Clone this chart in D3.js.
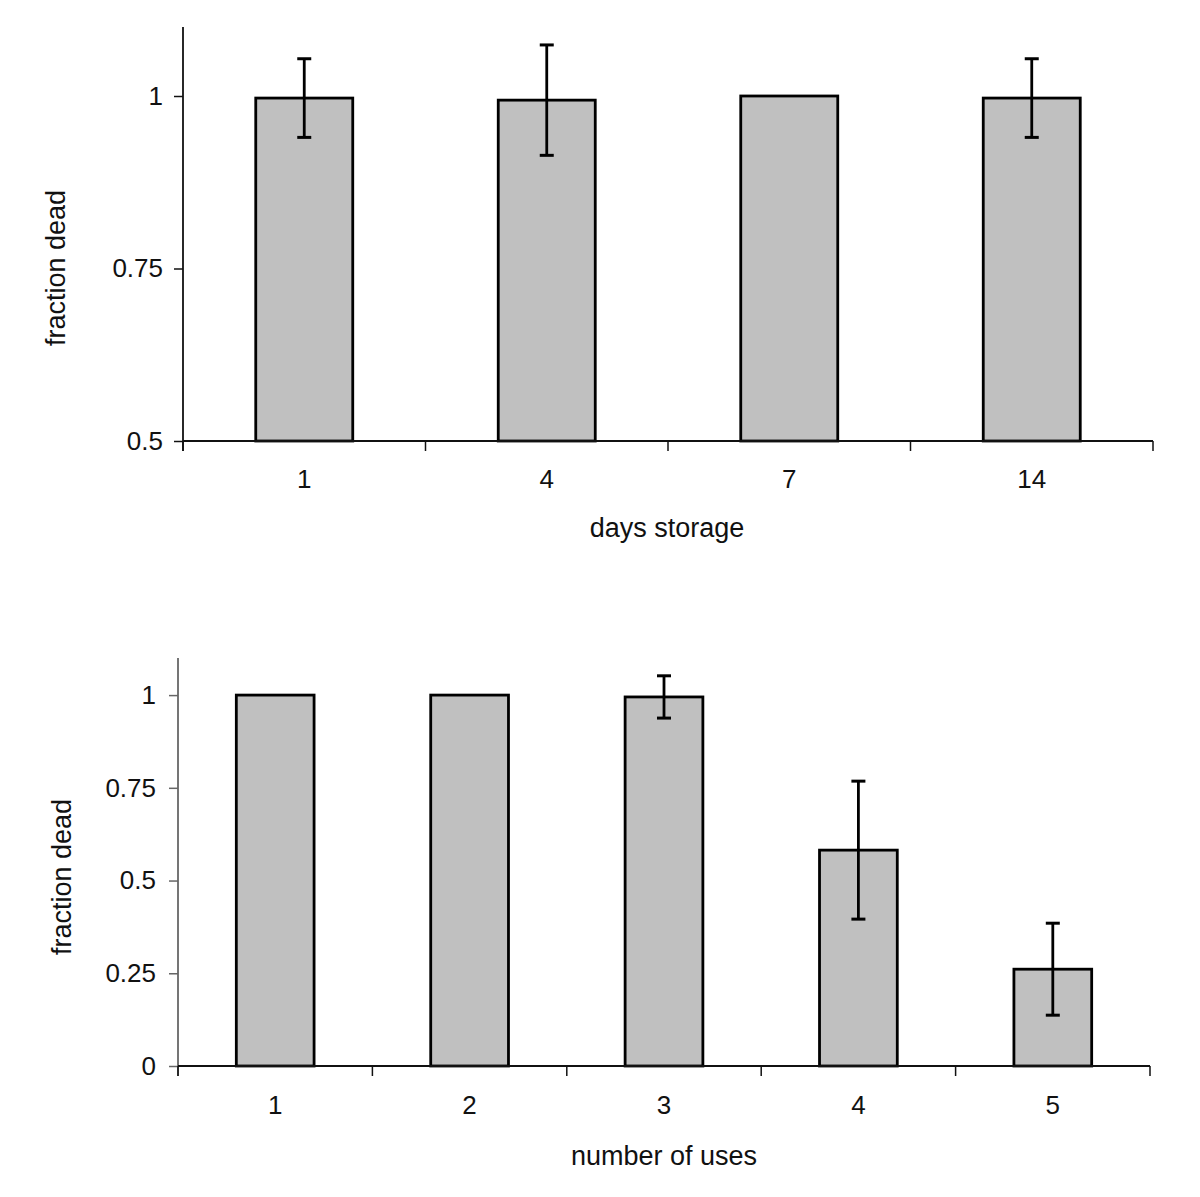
<!DOCTYPE html>
<html>
<head>
<meta charset="utf-8">
<script src="https://cdn.jsdelivr.net/npm/d3@7"></script>
<style>
  html, body { margin: 0; padding: 0; background: #fff; }
  text { font-family: "Liberation Sans", Arial, Helvetica, sans-serif; fill: #111; }
</style>
</head>
<body>
<svg id="chart" width="1200" height="1197"></svg>
<script>
// ---- Data ----
const storageDays = ["1", "4", "7", "14"];
const storageMean = [0.997, 0.994, 1.0, 0.997];
const storageErr  = [0.057, 0.080, 0, 0.057];
const storageTicks = [0.5, 0.75, 1];
const storageTickLabels = ["0.5", "0.75", "1"];

const usesCount = ["1", "2", "3", "4", "5"];
const usesMean = [1.0, 1.0, 0.995, 0.582, 0.261];
const usesErr  = [0, 0, 0.057, 0.186, 0.124];
const usesTicks = [0, 0.25, 0.5, 0.75, 1];
const usesTickLabels = ["0", "0.25", "0.5", "0.75", "1"];

const svg = d3.select("#chart");

function drawPanel(cfg) {
  const g = svg.append("g");
  const x = d3.scaleBand().domain(cfg.cats).range([cfg.x0, cfg.x1]).padding(0);
  const y = d3.scaleLinear().domain(cfg.yDomain).range([cfg.y0, cfg.y1]);
  const bw = x.bandwidth();

  // bars
  g.selectAll("rect.bar").data(cfg.cats).enter().append("rect")
    .attr("x", d => x(d) + bw * 0.3)
    .attr("width", bw * 0.4)
    .attr("y", (d, i) => y(cfg.mean[i]))
    .attr("height", (d, i) => y(cfg.yDomain[0]) - y(cfg.mean[i]))
    .attr("fill", "#c0c0c0")
    .attr("stroke", "#000")
    .attr("stroke-width", 2.8);

  // error bars
  const eb = cfg.cats.map((c, i) => ({c, m: cfg.mean[i], e: cfg.err[i]})).filter(d => d.e > 0);
  const cap = 7;
  eb.forEach(d => {
    const cx = x(d.c) + bw / 2;
    const yt = y(d.m + d.e), yb = y(d.m - d.e);
    g.append("line").attr("x1", cx).attr("x2", cx).attr("y1", yt).attr("y2", yb)
      .attr("stroke", "#000").attr("stroke-width", 2.8);
    [yt, yb].forEach(yy => g.append("line").attr("x1", cx - cap).attr("x2", cx + cap)
      .attr("y1", yy).attr("y2", yy).attr("stroke", "#000").attr("stroke-width", 3));
  });

  // y axis
  const yAxis = d3.axisLeft(y).tickValues(cfg.ticks)
    .tickFormat((d, i) => cfg.tickLabels[i]).tickSize(9).tickSizeOuter(0).tickPadding(cfg.yPad);
  const ya = g.append("g").attr("transform", `translate(${cfg.x0},0)`).call(yAxis);
  ya.select(".domain").attr("stroke", cfg.yColor).attr("stroke-width", 1.8)
    .attr("d", `M0,${cfg.y1}V${cfg.y0 + 10}`);
  ya.selectAll(".tick line").attr("stroke", cfg.yColor).attr("stroke-width", 1.5);
  ya.selectAll(".tick text").style("font-size", "26px").attr("fill", "#111")
    .style("font-family", '"Liberation Sans", Arial, sans-serif');

  // x axis (ticks at category boundaries)
  const xa = g.append("g");
  xa.append("line").attr("x1", cfg.x0).attr("x2", cfg.x1).attr("y1", cfg.y0).attr("y2", cfg.y0)
    .attr("stroke", "#111").attr("stroke-width", 1.8);
  const bounds = cfg.cats.map(c => x(c)).concat([cfg.x1]);
  xa.selectAll("line.tk").data(bounds).enter().append("line")
    .attr("x1", d => d).attr("x2", d => d).attr("y1", cfg.y0).attr("y2", cfg.y0 + 10)
    .attr("stroke", "#111").attr("stroke-width", 1.5);
  xa.selectAll("text.lbl").data(cfg.cats).enter().append("text")
    .attr("x", d => x(d) + bw / 2).attr("y", cfg.xLabelY)
    .attr("text-anchor", "middle").style("font-size", "26px").text(d => d);

  // titles
  g.append("text").attr("x", cfg.xTitleX).attr("y", cfg.xTitleY)
    .attr("text-anchor", "middle").style("font-size", "27px").text(cfg.xTitle);
  g.append("text")
    .attr("transform", `translate(${cfg.yTitleX},${cfg.yTitleY}) rotate(-90)`)
    .attr("text-anchor", "middle").style("font-size", "27px").text("fraction dead");
}

drawPanel({
  cats: storageDays, mean: storageMean, err: storageErr,
  ticks: storageTicks, tickLabels: storageTickLabels,
  yDomain: [0.5, 1.1], x0: 183, x1: 1153, y0: 441, y1: 27,
  yPad: 11, yColor: "#111", xLabelY: 488,
  xTitle: "days storage", xTitleX: 667, xTitleY: 537,
  yTitleX: 65, yTitleY: 268
});

drawPanel({
  cats: usesCount, mean: usesMean, err: usesErr,
  ticks: usesTicks, tickLabels: usesTickLabels,
  yDomain: [0, 1.1], x0: 178, x1: 1150, y0: 1066, y1: 658,
  yPad: 13, yColor: "#666", xLabelY: 1114,
  xTitle: "number of uses", xTitleX: 664, xTitleY: 1165,
  yTitleX: 71, yTitleY: 877
});
</script>
</body>
</html>
